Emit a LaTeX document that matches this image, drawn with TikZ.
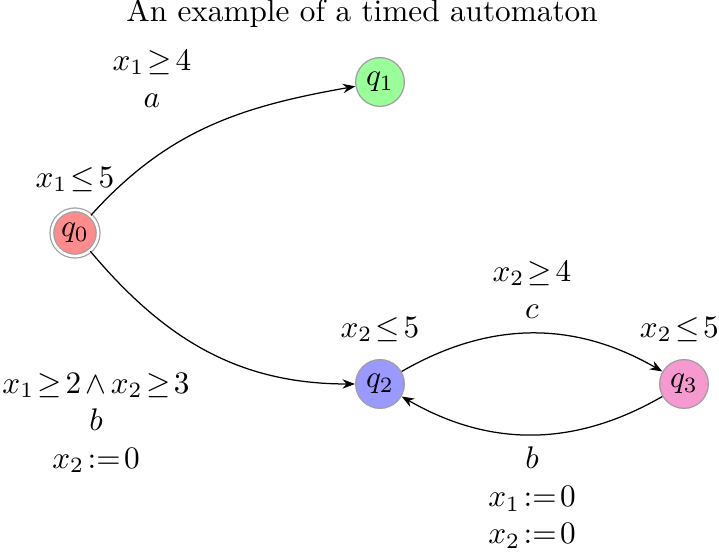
\documentclass[tikz,border=0pt]{standalone}
\usepackage{tikz}
\usetikzlibrary{arrows.meta, positioning}
\definecolor{stateborder}{RGB}{160, 160, 160}
\thickmuskip=2mu plus 1mu
\medmuskip=2.5mu plus 1mu

\begin{document}
\begin{tikzpicture}[
        x=0.32pt, y=-0.32pt,
        state/.style={circle, draw=stateborder, minimum size=15.6pt, inner sep=0pt},
        guard/.style={align=center},
        >={Stealth[length=4pt, width=3pt]}
    ]
    \useasboundingbox (0,0) rectangle (719,552);

    % Title
    \node (title) at (362,13) {An example of a timed automaton};

    % States
    \node[state, fill=red!45, double, double distance=0.8pt, minimum size=14.8pt] (q0) at (75,233) {$q_0$};
    \node[state, fill=green!40] (q1) at (380,82) {$q_1$};
    \node[state, fill=blue!40] (q2) at (380,384) {$q_2$};
    \node[state, fill=magenta!40] (q3) at (684,384) {$q_3$};

    % Invariants
    \node[above=2pt of q0] (inv0) {$x_1 \leq 5$};
    \node[above=2pt of q2] (inv2) {$x_2 \leq 5$};
    \node[above=2pt of q3, xshift=-1.5pt] (inv3) {$x_2 \leq 5$};

    % Transitions
    \draw[->] (q0) to[out=48, in=190] (q1);
    \draw[->] (q0) to[out=-50, in=180] (q2);
    \draw[->] (q2) to[bend left=30] (q3);
    \draw[->] (q3) to[bend left=30] (q2);

    % Guards, actions and resets
    \node[guard] (g01) at (152,79) {$x_1 \geq 4$\\$a$};
    \node[guard] (g02) at (96,423) {$x_1 \geq 2 \wedge x_2 \geq 3$\\$b$\\$x_2 := 0$};
    \node[guard] (g23) at (532,290) {$x_2 \geq 4$\\$c$};
    \node[guard] (g32) at (532,498) {$b$\\$x_1 := 0$\\$x_2 := 0$};
\end{tikzpicture}
\end{document}
